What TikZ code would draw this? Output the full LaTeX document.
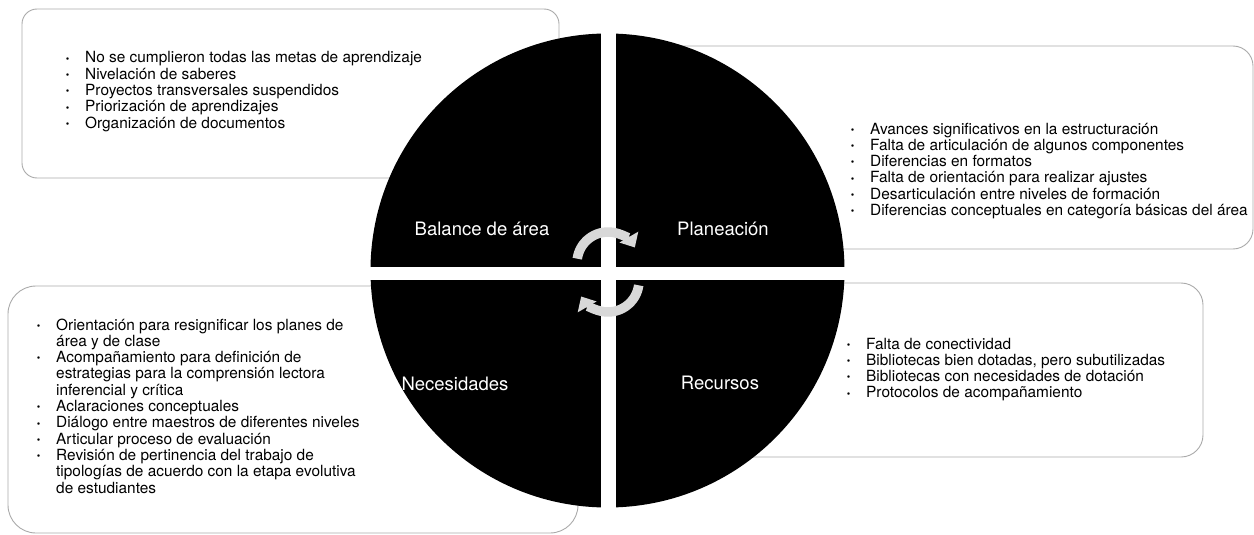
\documentclass[tikz,border=0pt]{standalone}
\usepackage{fontspec}
\setmainfont{TeX Gyre Heros}
\usetikzlibrary{arrows.meta}
\definecolor{boxline}{RGB}{170,170,170}
\definecolor{cycgray}{RGB}{216,216,216}
\newcommand{\bul}{\makebox[0pt]{\raisebox{0.8pt}{\fontsize{10}{10}\selectfont\textbullet}}}
\newcommand{\itm}{\llap{\bul\hspace{17.5pt}}}
\tikzset{
  infobox/.style={draw=boxline, line width=0.9pt, fill=white, inner sep=0pt},
  listtext/.style={inner sep=0pt, anchor=base west, font=\fontsize{15.4}{16.3}\selectfont},
  quadlabel/.style={inner sep=0pt, anchor=base, text=white, font=\fontsize{18.5}{22}\selectfont},
  cyc/.style={draw=cycgray, line width=9.5pt, -{Triangle[width=21pt,length=12pt]}}
}
\begin{document}
\begin{tikzpicture}[x=1pt,y=-1pt]
\useasboundingbox (0,0) rectangle (1254,535);
% background boxes
\node[infobox, rounded corners=15pt, minimum width=537pt, minimum height=169pt] (balbox) at (290.5,93.5) {};
\node[infobox, rounded corners=20pt, minimum width=593pt, minimum height=203pt] (plabox) at (956.5,147.5) {};
\node[infobox, rounded corners=28pt, minimum width=570pt, minimum height=247pt] (necbox) at (293,409.5) {};
\node[infobox, rounded corners=22pt, minimum width=503pt, minimum height=174pt] (recbox) at (951.5,370) {};
% circle
\fill[black] (607.5,270.5) circle[radius=237];
\begin{scope}
  \clip (607.5,270.5) circle[radius=238];
  \fill[white] (600.5,20) rectangle (615.5,520);
  \fill[white] (360,267) rectangle (856,280);
\end{scope}
% cycle arrows
\draw[cyc] ([shift={(188:31)}]608,263) arc[start angle=188, end angle=330, radius=31];
\draw[cyc] ([shift={(8:31)}]608,281) arc[start angle=8, end angle=150, radius=31];
% quadrant labels
\node[quadlabel] (lbal) at (482,235) {Balance de área};
\node[quadlabel] (lpla) at (723,235) {Planeación};
\node[quadlabel] (lnec) at (455,390) {Necesidades};
\node[quadlabel] (lrec) at (720,389) {Recursos};
% lists
\node[listtext] (tbal) at (85,63) {\begin{tabular}[t]{@{}l@{}}
\itm No se cumplieron todas las metas de aprendizaje\\
\itm Nivelación de saberes\\
\itm Proyectos transversales suspendidos\\
\itm Priorización de aprendizajes\\
\itm Organización de documentos
\end{tabular}};
\node[listtext] (tpla) at (870,134) {\begin{tabular}[t]{@{}l@{}}
\itm Avances significativos en la estructuración\\
\itm Falta de articulación de algunos componentes\\
\itm Diferencias en formatos\\
\itm Falta de orientación para realizar ajustes\\
\itm Desarticulación entre niveles de formación\\
\itm Diferencias conceptuales en categoría básicas del área
\end{tabular}};
\node[listtext] (tnec) at (56,330) {\begin{tabular}[t]{@{}l@{}}
\itm Orientación para resignificar los planes de\\
área y de clase\\
\itm Acompañamiento para definición de\\
estrategias para la comprensión lectora\\
inferencial y crítica\\
\itm Aclaraciones conceptuales\\
\itm Diálogo entre maestros de diferentes niveles\\
\itm Articular proceso de evaluación\\
\itm Revisión de pertinencia del trabajo de\\
tipologías de acuerdo con la etapa evolutiva\\
de estudiantes
\end{tabular}};
\node[listtext] (trec) at (866,349) {\begin{tabular}[t]{@{}l@{}}
\itm Falta de conectividad\\
\itm Bibliotecas bien dotadas, pero subutilizadas\\
\itm Bibliotecas con necesidades de dotación\\
\itm Protocolos de acompañamiento
\end{tabular}};
\end{tikzpicture}
\end{document}
